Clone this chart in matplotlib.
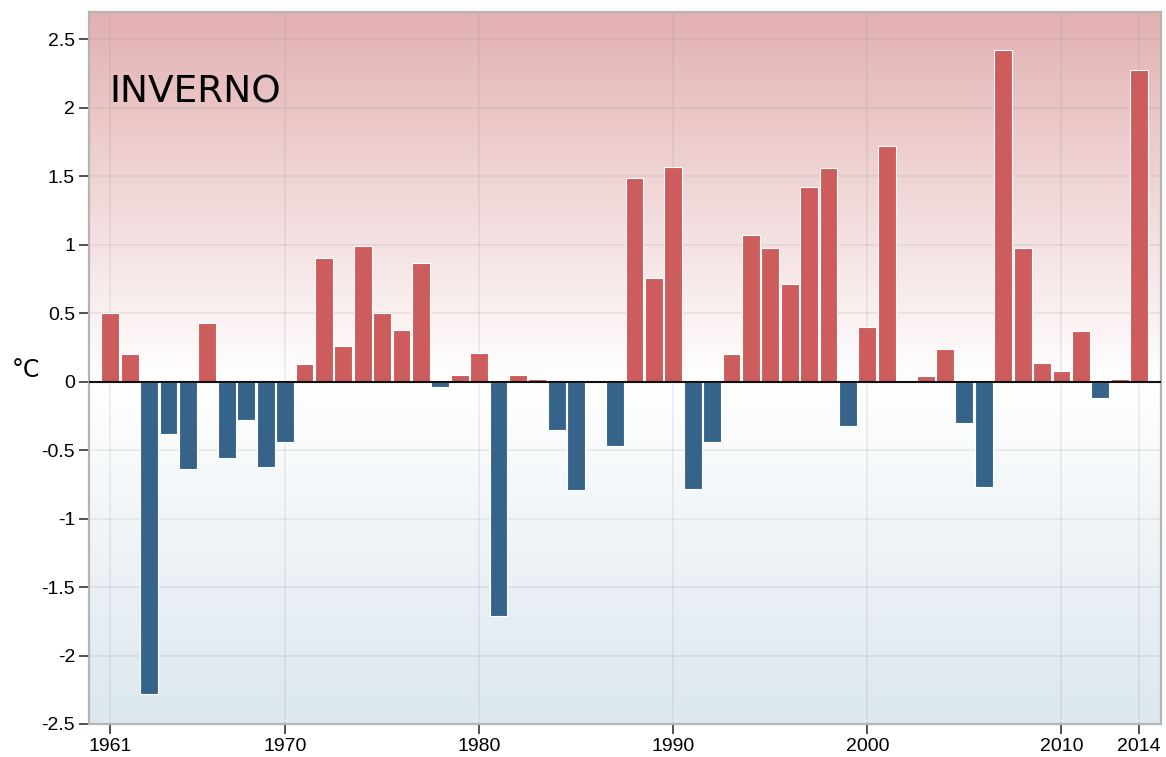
import numpy as np
import matplotlib
matplotlib.use("Agg")
import matplotlib.pyplot as plt
from matplotlib.colors import LinearSegmentedColormap

######## data: winter temperature anomaly (°C) ########
years = list(range(1961, 2015))
anomaly = [0.50, 0.20, -2.28, -0.38, -0.64, 0.43, -0.56, -0.28, -0.62, -0.44,
           0.13, 0.90, 0.26, 0.99, 0.50, 0.38, 0.87, -0.04, 0.05, 0.21,
           -1.71, 0.05, 0.02, -0.35, -0.79, 0.0, -0.47, 1.49, 0.76, 1.57,
           -0.78, -0.44, 0.20, 1.07, 0.98, 0.71, 1.42, 1.56, -0.32, 0.40,
           1.72, 0.0, 0.04, 0.24, -0.30, -0.77, 2.42, 0.98, 0.14, 0.08,
           0.37, -0.12, 0.02, 2.28]
xticks = [1961, 1970, 1980, 1990, 2000, 2010, 2014]
yticks = [-2.5, -2, -1.5, -1, -0.5, 0, 0.5, 1, 1.5, 2, 2.5]
ytick_labels = ["-2.5", "-2", "-1.5", "-1", "-0.5", "0", "0.5", "1", "1.5", "2", "2.5"]

ylo, yhi = -2.5, 2.70
xlo, xhi = 1959.9, 2015.15

fig = plt.figure(figsize=(11.66, 7.57), dpi=100)
ax = fig.add_axes([0.0763, 0.0436, 0.9198, 0.9405])

######## gradient background ########
pos0 = (0 - ylo) / (yhi - ylo)
cmap = LinearSegmentedColormap.from_list(
    "bg", [(0.0, "#dce7ee"), (pos0, "#ffffff"), (1.0, "#e3b1b2")])
grad = np.linspace(0, 1, 400).reshape(-1, 1)
ax.imshow(grad, extent=[xlo, xhi, ylo, yhi], origin="lower", aspect="auto",
          cmap=cmap, zorder=0, interpolation="bicubic")

######## grid ########
for yv in yticks:
    ax.axhline(yv, color="#888888", alpha=0.15, lw=1.2, zorder=1)
for xv in xticks:
    ax.axvline(xv, color="#888888", alpha=0.15, lw=1.2, zorder=1)

######## bars ########
colors = ["#cd5c5c" if v >= 0 else "#366389" for v in anomaly]
ax.bar(years, anomaly, width=0.92, color=colors, edgecolor="white",
       linewidth=0.8, zorder=2)
ax.axhline(0, color="#111111", lw=1.5, zorder=3)

ax.set_xlim(xlo, xhi)
ax.set_ylim(ylo, yhi)
ax.set_xticks(xticks)
ax.set_xticklabels([str(x) for x in xticks])
ax.set_yticks(yticks)
ax.set_yticklabels(ytick_labels)
ax.tick_params(direction="out", length=7, width=1.2, color="#333333",
               labelsize=14, pad=3)
for lab in ax.get_xticklabels() + ax.get_yticklabels():
    lab.set_family("Liberation Sans")
for sp in ax.spines.values():
    sp.set_color("#b4b4b4")
    sp.set_linewidth(1.6)

ax.text(0.019, 0.873, "INVERNO", transform=ax.transAxes, fontsize=27,
        family="DejaVu Sans", color="black", va="baseline", ha="left")
fig.text(0.022, 0.511, "°C", fontsize=17, family="DejaVu Sans",
         ha="center", va="center")

fig.savefig("out.png", dpi=100)
